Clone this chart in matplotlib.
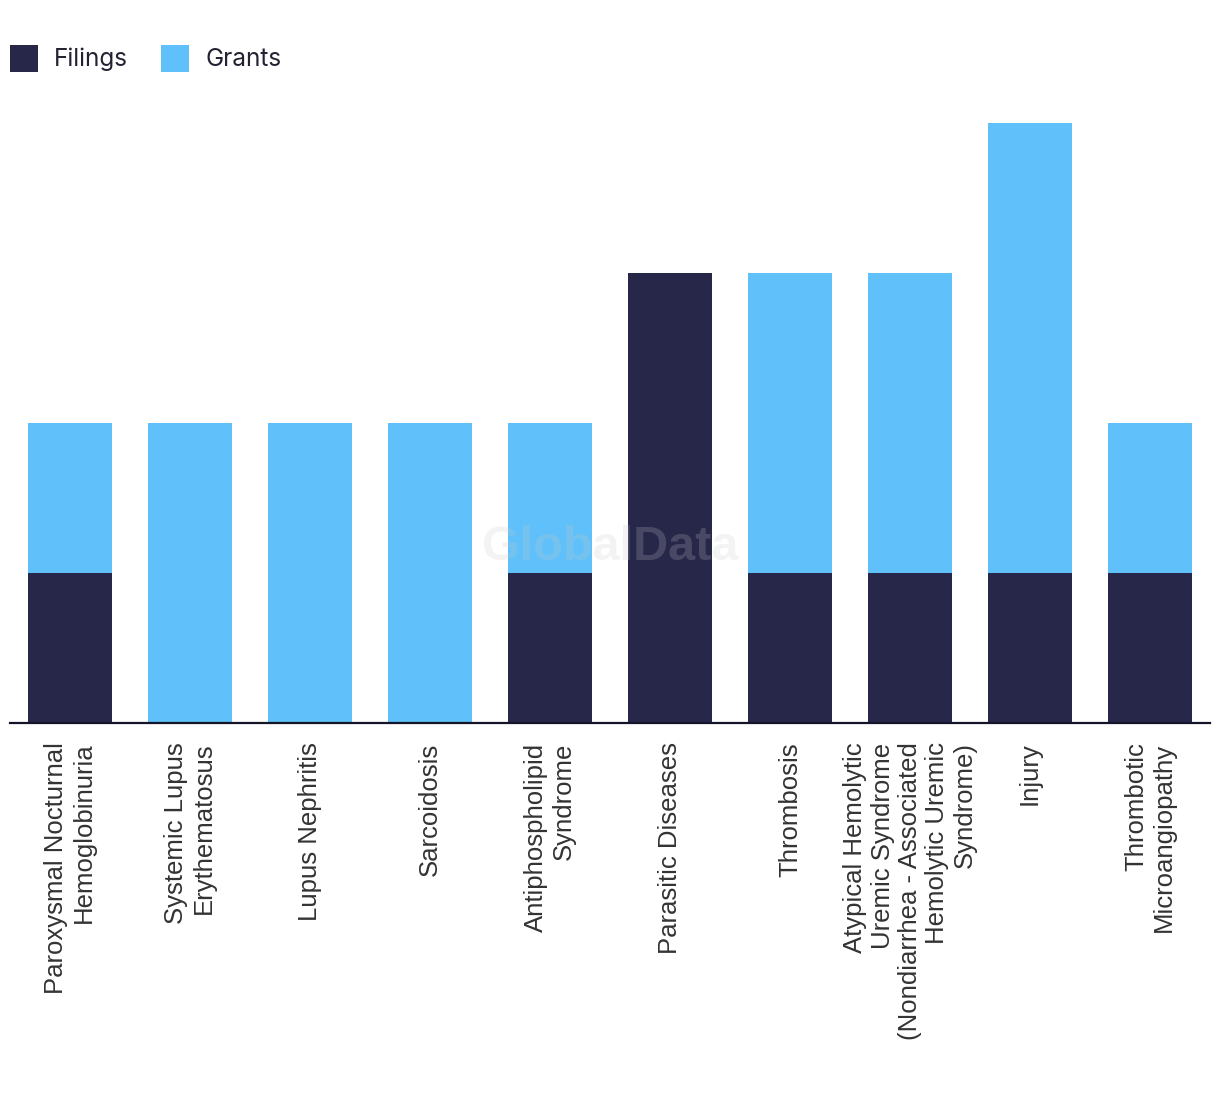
import matplotlib.pyplot as plt
import numpy as np

# Data
categories = [
    "Paroxysmal Nocturnal\nHemoglobinuria",
    "Systemic Lupus\nErythematosus",
    "Lupus Nephritis",
    "Sarcoidosis",
    "Antiphospholipid\nSyndrome",
    "Parasitic Diseases",
    "Thrombosis",
    "Atypical Hemolytic\nUremic Syndrome\n(Nondiarrhea - Associated\nHemolytic Uremic\nSyndrome)",
    "Injury",
    "Thrombotic\nMicroangiopathy",
]
filings = [1, 0, 0, 0, 1, 3, 1, 1, 1, 1]
grants = [1, 2, 2, 2, 1, 0, 2, 2, 3, 1]

navy = "#27274a"
blue = "#60c0f9"

fig = plt.figure(figsize=(12.2, 10.94), dpi=100)
ax = fig.add_axes([10 / 1220, (1094 - 723) / 1094, 1200 / 1220, 600 / 1094])

x = np.arange(len(categories))
ax.bar(x, filings, width=0.7, color=navy, label="Filings", zorder=2)
ax.bar(x, grants, width=0.7, bottom=filings, color=blue, label="Grants", zorder=2)

ax.set_xlim(-0.5, len(categories) - 0.5)
ax.set_ylim(0, 4)
ax.set_xticks(x)
ax.set_xticklabels(categories, rotation=90, ha="center", va="top",
                   fontsize=18.5, family="Liberation Sans", color="#333333",
                   multialignment="right", linespacing=1.18)
ax.tick_params(axis="x", length=0, pad=14)
ax.set_yticks([])
for s in ["top", "right", "left"]:
    ax.spines[s].set_visible(False)
ax.spines["bottom"].set_linewidth(1.6)
ax.spines["bottom"].set_color("#141428")
ax.spines["bottom"].set_zorder(3)

# watermark
fig.text(0.5, 1 - 548 / 1094, "GlobalData", ha="center", va="center",
         fontsize=35, fontweight="bold", family="Liberation Sans",
         color="#cbcbcb", alpha=0.21, zorder=10)

fig.legend(loc="upper left", bbox_to_anchor=(0.0, 1 - 35 / 1094), ncol=2,
           frameon=False, prop={"family": "Inter", "size": 17.5},
           handlelength=1.15, handleheight=1.35, handletextpad=0.68,
           columnspacing=1.35, borderaxespad=0, labelcolor="#222233")

fig.savefig("out.png", dpi=100)
